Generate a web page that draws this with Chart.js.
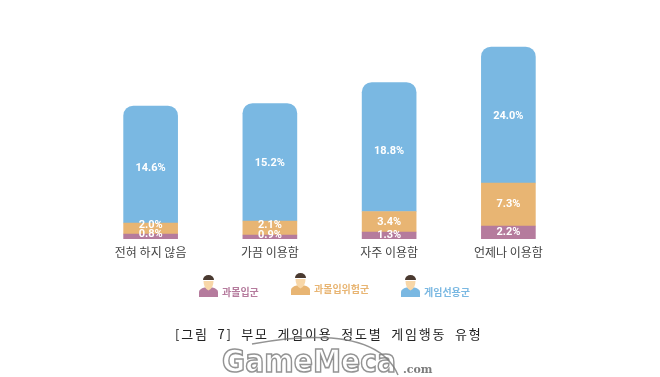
<!DOCTYPE html>
<html>
<head>
<meta charset="utf-8">
<style>
  html, body { margin: 0; padding: 0; background: #fff; }
  #chart { display: block; }
</style>
<script src="https://cdn.jsdelivr.net/npm/chart.js@4/dist/chart.umd.min.js"></script>
</head>
<body>
<canvas id="chart" width="660" height="377"></canvas>
<script>
const categories = ['전혀 하지 않음', '가끔 이용함', '자주 이용함', '언제나 이용함'];
const seriesNames = ['과몰입군', '과몰입위험군', '게임선용군'];

// printed percentages
const addictedLabels = ['0.8%', '0.9%', '1.3%', '2.2%'];
const riskLabels = ['2.0%', '2.1%', '3.4%', '7.3%'];
const gamerLabels = ['14.6%', '15.2%', '18.8%', '24.0%'];

// segment heights as drawn in the picture (the source graphic is not to scale with its labels)
const addictedHeights = [5, 4, 7, 13];
const riskHeights = [11, 14, 20.5, 43];
const gamerHeights = [117, 117.5, 129, 136];

const purple = '#b57b9d';
const orange = '#e8b573';
const blue = '#7ab8e2';

const ctx = document.getElementById('chart').getContext('2d');

// the blue labels sit a bit below centre in the original
const blueShift = [3.5, 0.5, 4, 1];

// white percentage text inside each segment
const segmentLabels = {
    id: 'segmentLabels',
    afterDatasetsDraw(chart) {
        const c = chart.ctx;
        c.save();
        c.fillStyle = '#fff';
        c.font = 'bold 11px Roboto, "Noto Sans"';
        c.textAlign = 'center';
        c.textBaseline = 'middle';
        chart.data.datasets.forEach((ds, i) => {
            chart.getDatasetMeta(i).data.forEach((bar, j) => {
                const h = bar.base - bar.y;
                let y = bar.y + h / 2;
                if (i === 2) y += blueShift[j];
                if (i === 1 && h < 15) y -= 3; // thin bands: keep labels apart
                if (i === 0 && h < 6) y -= 2;
                c.fillText(ds.texts[j], bar.x, y);
            });
        });
        c.restore();
    }
};

function drawPerson(c, x, y, color) {
    // shoulders
    c.fillStyle = color;
    c.beginPath();
    c.moveTo(x - 9.5, y + 22);
    c.lineTo(x - 9.5, y + 17);
    c.quadraticCurveTo(x - 9.5, y + 14, x - 4, y + 12.5);
    c.lineTo(x + 4, y + 12.5);
    c.quadraticCurveTo(x + 9.5, y + 14, x + 9.5, y + 17);
    c.lineTo(x + 9.5, y + 22);
    c.closePath();
    c.fill();
    // face
    c.fillStyle = '#f8d7a8';
    c.beginPath();
    c.moveTo(x - 5, y + 6);
    c.lineTo(x + 5, y + 6);
    c.quadraticCurveTo(x + 5, y + 13, x, y + 15.5);
    c.quadraticCurveTo(x - 5, y + 13, x - 5, y + 6);
    c.fill();
    // hair
    c.fillStyle = '#4a3a30';
    c.beginPath();
    c.ellipse(x, y + 5, 5.5, 5, 0, Math.PI, 0);
    c.fill();
}

const extras = {
    id: 'extras',
    afterDraw(chart) {
        const c = chart.ctx;
        c.save();
        c.textBaseline = 'middle';

        // legend
        const legend = [
            { x: 208.5, y: 275, tx: 222, ty: 292, color: purple, text: seriesNames[0] },
            { x: 300.5, y: 273, tx: 314, ty: 289, color: orange, text: seriesNames[1] },
            { x: 410.5, y: 275, tx: 424, ty: 292, color: blue, text: seriesNames[2] }
        ];
        legend.forEach(l => {
            drawPerson(c, l.x, l.y, l.color);
            c.fillStyle = l.color;
            c.font = 'bold 10px "Noto Sans CJK KR"';
            c.textAlign = 'left';
            c.fillText(l.text, l.tx, l.ty);
        });

        // caption
        c.fillStyle = '#222';
        c.font = '13px "Noto Sans CJK KR"';
        c.wordSpacing = '4px';
        c.letterSpacing = '1.8px';
        c.textAlign = 'left';
        c.fillText('[그림 7] 부모 게임이용 정도별 게임행동 유형', 175, 334);
        c.wordSpacing = '0px';
        c.letterSpacing = '0px';

        // watermark
        c.strokeStyle = 'rgba(120,120,120,0.8)';
        c.lineWidth = 1.5;
        c.beginPath();
        c.moveTo(252, 344);
        c.quadraticCurveTo(375, 322, 398, 375);
        c.stroke();
        c.font = 'bold 32px "DejaVu Sans"';
        c.lineWidth = 1.6;
        c.strokeText('GameMeca', 222, 364, 174);
        c.fillStyle = 'rgba(110,110,110,0.9)';
        c.font = 'bold 11px "DejaVu Serif"';
        c.fillText('.com', 403, 370);
        c.restore();
    }
};

new Chart(ctx, {
    type: 'bar',
    data: {
        labels: categories,
        datasets: [
            { label: seriesNames[0], data: addictedHeights, texts: addictedLabels, backgroundColor: purple },
            { label: seriesNames[1], data: riskHeights, texts: riskLabels, backgroundColor: orange },
            {
                label: seriesNames[2],
                data: gamerHeights,
                texts: gamerLabels,
                backgroundColor: blue,
                borderRadius: { topLeft: 10, topRight: 10, bottomLeft: 0, bottomRight: 0 },
                borderSkipped: false
            }
        ]
    },
    options: {
        responsive: false,
        animation: false,
        barThickness: 54,
        layout: { padding: { left: 91, right: 92, top: 0, bottom: 114 } },
        plugins: {
            legend: { display: false },
            title: { display: false },
            tooltip: { enabled: false }
        },
        scales: {
            x: {
                stacked: true,
                grid: { display: false, drawTicks: false },
                border: { display: false },
                ticks: {
                    color: '#444',
                    font: { family: '"Noto Sans CJK KR"', size: 12 },
                    padding: 6,
                    maxRotation: 0
                },
                afterFit(scale) { scale.height = 24; }
            },
            y: {
                stacked: true,
                display: false,
                min: 0,
                max: 239
            }
        }
    },
    plugins: [segmentLabels, extras]
});
</script>
</body>
</html>
